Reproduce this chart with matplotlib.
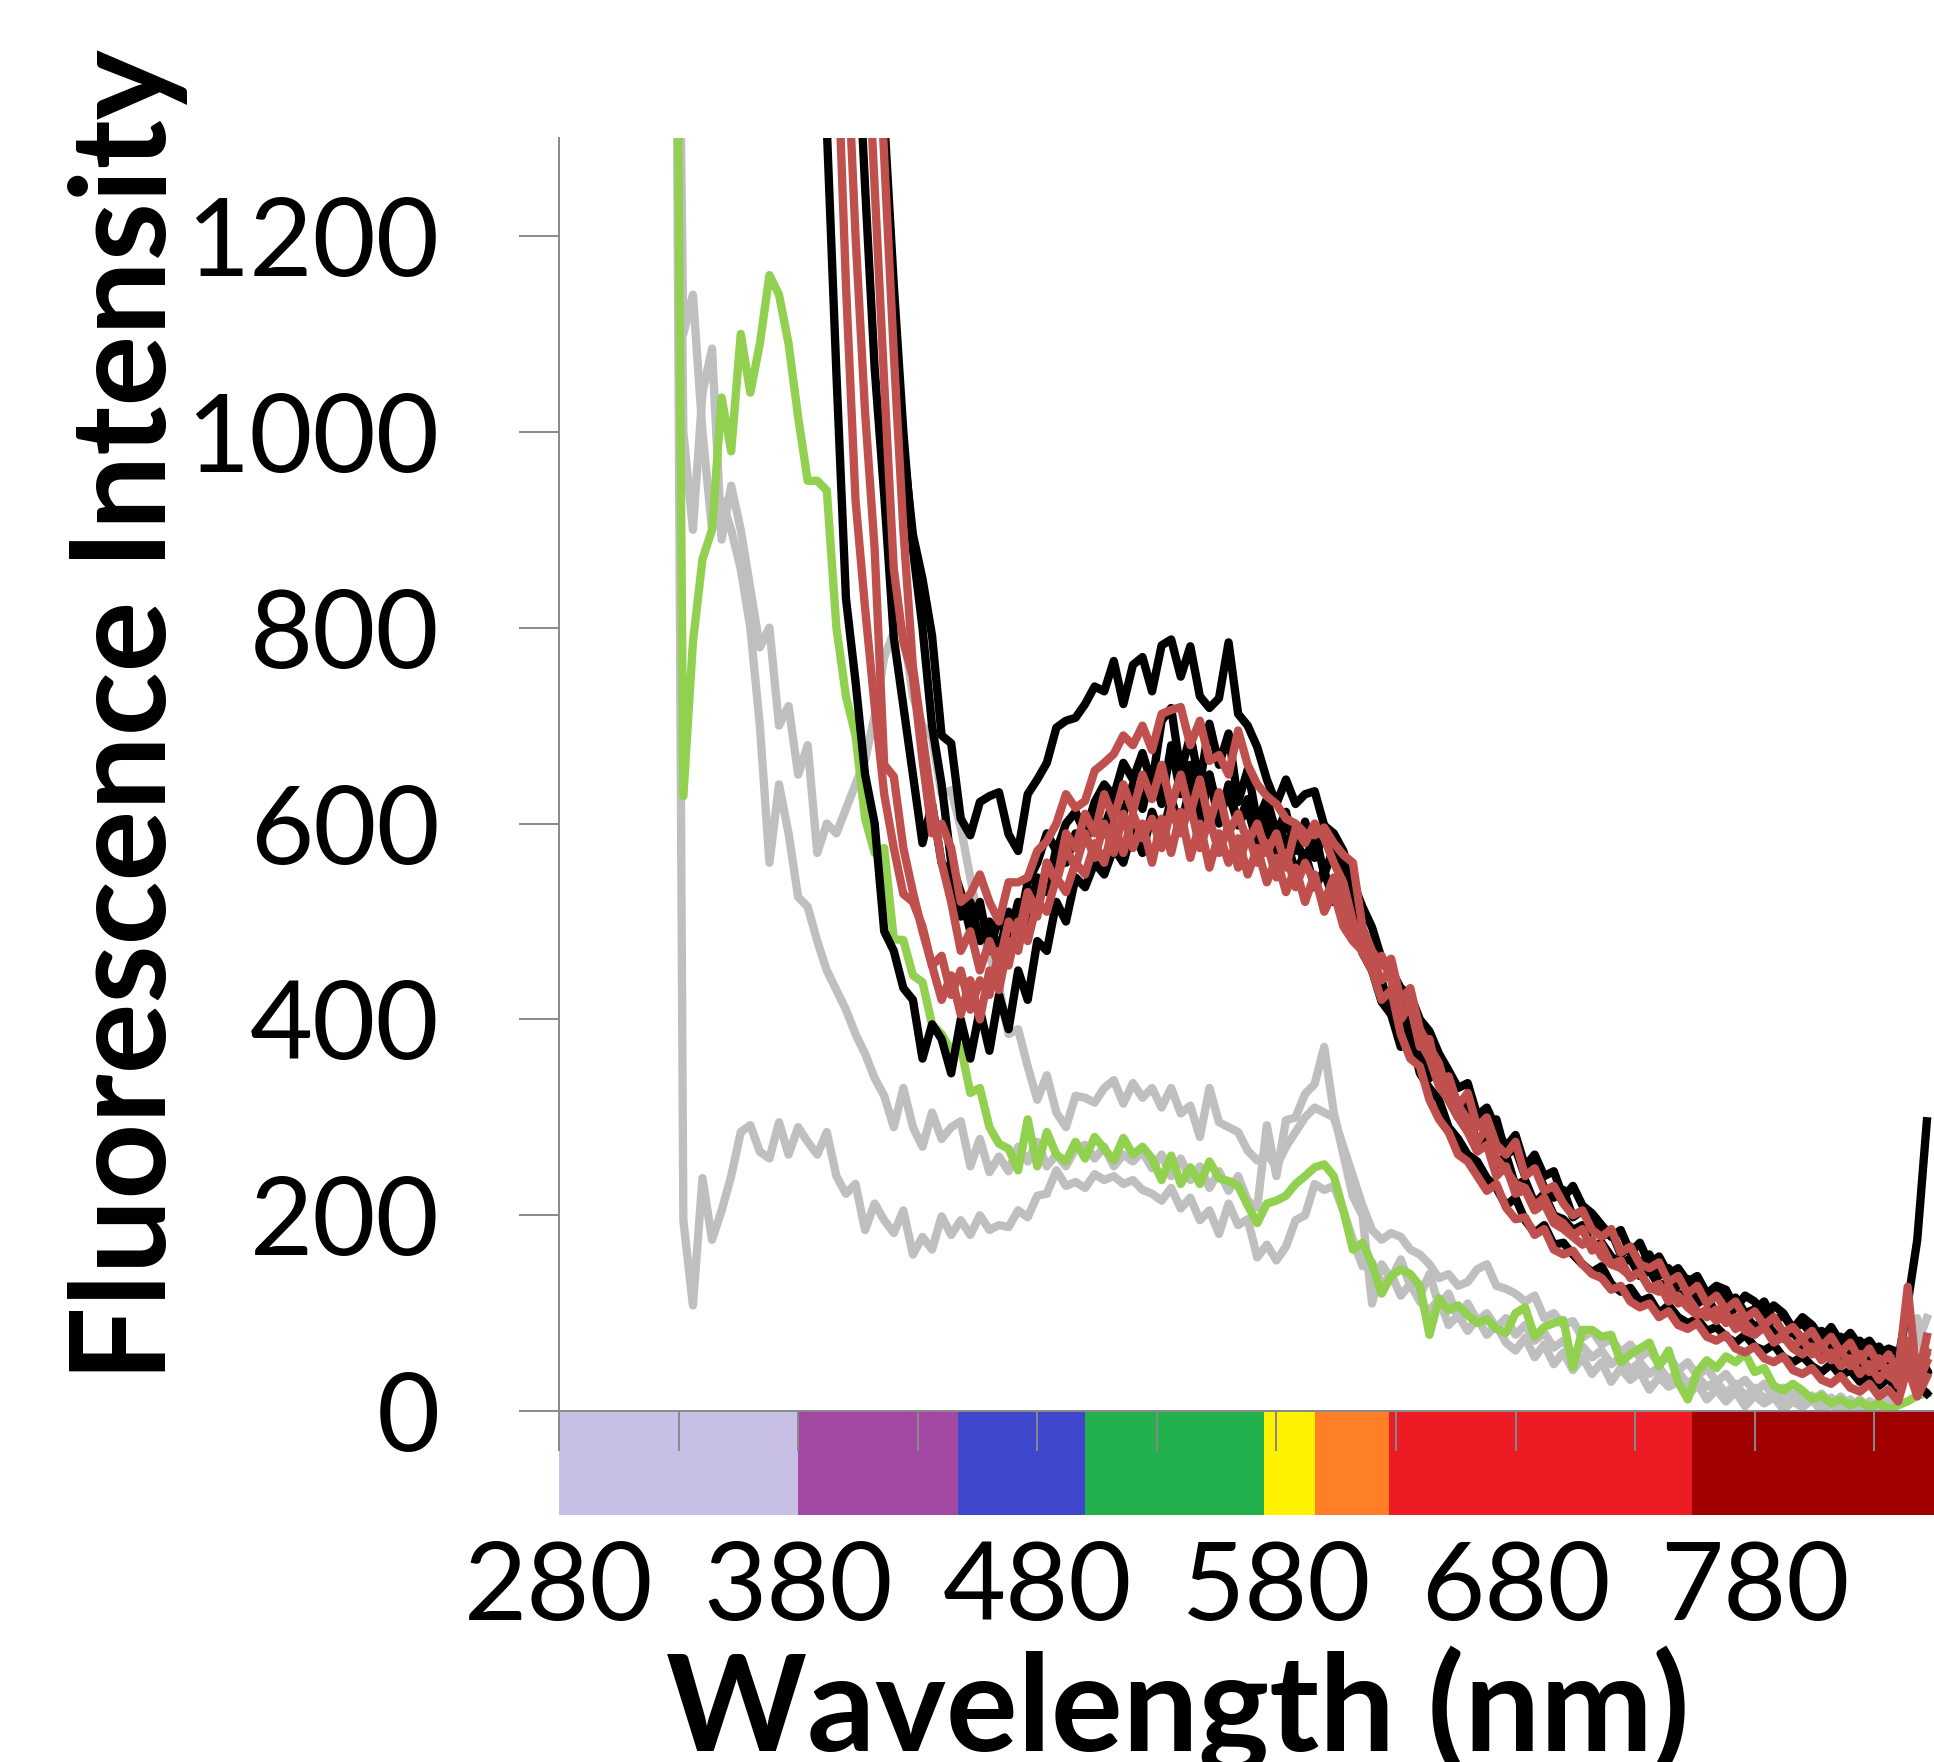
import numpy as np
import matplotlib.pyplot as plt
from matplotlib.patches import Rectangle

plt.rcParams['font.family'] = ['Lato', 'DejaVu Sans']

# spectra are sampled every 4 nm; early group starts at 328 nm, late group at 388 nm
step_nm = 4
start_early = 328
start_late = 388

green = [1900, 628, 785, 870, 900, 1035, 980, 1100, 1040, 1090,
         1160, 1140, 1090, 1015, 950, 950, 940, 800, 730, 690,
         605, 570, 575, 482, 481, 445, 438, 395, 385, 368,
         372, 325, 330, 290, 273, 268, 246, 298, 250, 285,
         262, 255, 275, 258, 280, 268, 256, 279, 262, 270,
         258, 236, 261, 232, 249, 232, 255, 238, 235, 230,
         210, 192, 212, 215, 220, 232, 240, 249, 252, 240,
         205, 165, 172, 150, 120, 138, 145, 140, 128, 78,
         115, 103, 108, 98, 90, 94, 84, 80, 100, 106,
         76, 86, 90, 93, 45, 83, 83, 76, 78, 50,
         58, 64, 70, 46, 62, 30, 12, 40, 52, 44,
         56, 50, 59, 40, 44, 26, 21, 28, 21, 12,
         16, 8, 12, 6, 10, 4, 8, 2, 6, 10,
         16, 18]

gray_a = [1900, 195, 108, 238, 175, 205, 240, 285, 292, 265,
          258, 295, 262, 290, 275, 262, 285, 240, 222, 232,
          185, 212, 195, 182, 205, 160, 178, 165, 199, 180,
          195, 180, 200, 185, 190, 188, 205, 198, 220, 222,
          246, 230, 234, 228, 242, 236, 240, 232, 236, 226,
          222, 215, 228, 207, 218, 195, 205, 181, 212, 190,
          196, 157, 170, 154, 168, 195, 200, 232, 226, 230,
          205, 175, 148, 152, 128, 140, 118, 130, 112, 102,
          115, 88, 98, 82, 95, 78, 88, 70, 62, 75,
          55, 68, 48, 60, 42, 55, 38, 50, 30, 44,
          32, 40, 22, 35, 25, 30, 15, 28, 12, 22,
          10, 20, 5, 16, 8, 14, 2, 10, 4, 12,
          0, 8, -2, 6, 0, 10, -2, 8, 20, 45,
          90, 60]

gray_b = [1900, 1100, 1140, 1000, 900, 930, 900, 860, 800, 700,
          560, 640, 590, 525, 515, 480, 450, 430, 410, 385,
          365, 340, 322, 290, 330, 290, 270, 305, 278, 290,
          296, 250, 278, 244, 260, 245, 270, 255, 275, 250,
          262, 250, 268, 272, 258, 270, 250, 262, 255, 265,
          248, 262, 240, 258, 236, 250, 228, 245, 225, 240,
          215, 208, 292, 240, 297, 300, 324, 334, 372, 305,
          262, 219, 200, 110, 150, 135, 155, 128, 118, 140,
          108, 120, 95, 110, 92, 100, 85, 95, 78, 88,
          72, 80, 65, 72, 58, 66, 55, 62, 48, 55,
          42, 50, 38, 45, 32, 40, 28, 35, 25, 30,
          18, 28, 15, 24, 12, 20, 10, 18, 8, 16,
          5, 14, 4, 12, 2, 10, 5, 12, 30, 60,
          95, 40]

gray_c = [1900, 1000, 900, 1040, 1085, 890, 945, 900, 840, 780,
          800, 700, 720, 650, 680, 570, 600, 590, 615, 640,
          665, 710, 770, 795, 798, 730, 700, 688, 630, 634,
          596, 545, 494, 467, 433, 385, 390, 352, 318, 343,
          305, 290, 322, 320, 315, 330, 338, 314, 335, 320,
          330, 310, 330, 304, 312, 280, 330, 295, 290, 285,
          266, 256, 262, 250, 270, 285, 300, 310, 305, 300,
          270, 240, 210, 185, 175, 182, 178, 165, 160, 150,
          136, 140, 128, 132, 145, 150, 128, 125, 120, 112,
          118, 95, 100, 88, 92, 75, 82, 68, 74, 60,
          68, 55, 62, 48, 56, 42, 50, 36, 44, 30,
          38, 25, 32, 20, 28, 15, 24, 12, 20, 10,
          18, 6, 15, 4, 12, 2, 10, 40, 60, 92,
          70, 95]

black_1 = [3000, 2700, 2400, 2100, 1850, 1650, 1450, 1300, 1120, 985,
           895, 850, 792, 690, 682, 605, 588, 622, 628, 632,
           589, 572, 630, 645, 662, 698, 705, 708, 722, 740,
           735, 766, 722, 762, 770, 735, 782, 788, 750, 781,
           730, 718, 728, 785, 712, 700, 678, 645, 620, 645,
           620, 630, 633, 598, 590, 572, 540, 515, 494, 462,
           450, 432, 425, 400, 388, 365, 348, 330, 335, 302,
           310, 288, 270, 282, 250, 262, 240, 245, 218, 230,
           210, 202, 190, 178, 185, 162, 172, 150, 158, 140,
           146, 132, 138, 120, 128, 124, 105, 118, 112, 96,
           108, 100, 84, 96, 88, 74, 86, 70, 80, 66,
           72, 58, 64, 60, 48, 54, 40]

black_2 = [2600, 2250, 1950, 1650, 1450, 1250, 1065, 935, 790, 720,
           650, 580, 620, 560, 548, 505, 520, 480, 500, 468,
           510, 492, 540, 560, 590, 572, 600, 612, 590, 622,
           640, 628, 662, 645, 672, 640, 705, 718, 652, 690,
           640, 702, 660, 692, 622, 655, 602, 625, 590, 612,
           572, 602, 565, 590, 578, 556, 512, 470, 452, 425,
           430, 398, 385, 372, 340, 352, 318, 300, 310, 270,
           285, 248, 262, 230, 236, 212, 222, 200, 196, 185,
           190, 168, 172, 158, 150, 156, 138, 144, 128, 132,
           118, 122, 110, 116, 100, 108, 94, 98, 86, 92,
           80, 74, 82, 66, 72, 60, 68, 54, 62, 48,
           58, 44, 52, 40, 50, 36, 42]

black_3 = [3100, 2800, 2500, 2200, 1950, 1700, 1500, 1320, 1150, 1000,
           880, 800, 700, 640, 560, 530, 490, 520, 470, 505,
           480, 520, 500, 545, 530, 575, 560, 590, 580, 610,
           595, 625, 610, 640, 615, 655, 620, 680, 630, 660,
           615, 650, 600, 640, 598, 625, 580, 610, 575, 600,
           585, 560, 592, 548, 575, 530, 500, 478, 450, 440,
           405, 420, 380, 392, 360, 345, 338, 312, 322, 296,
           288, 298, 262, 268, 240, 252, 228, 218, 226, 198,
           205, 190, 178, 184, 160, 168, 150, 160, 138, 146,
           128, 135, 122, 114, 125, 108, 116, 100, 104, 112,
           92, 98, 84, 90, 78, 82, 70, 76, 64, 72,
           58, 66, 54, 50, 110, 175, 296]

black_4 = [2200, 1310, 1060, 830, 745, 650, 600, 490, 470, 432,
           420, 360, 395, 380, 345, 400, 360, 410, 368, 425,
           390, 450, 420, 480, 470, 520, 500, 545, 535, 560,
           548, 575, 560, 595, 570, 612, 585, 625, 595, 640,
           600, 650, 610, 630, 600, 615, 580, 598, 565, 585,
           550, 570, 535, 552, 520, 540, 500, 468, 450, 418,
           405, 372, 385, 345, 330, 318, 290, 278, 262, 255,
           238, 228, 210, 218, 195, 182, 190, 170, 172, 160,
           150, 142, 148, 130, 122, 126, 112, 116, 100, 108,
           96, 90, 94, 82, 86, 76, 70, 78, 66, 62,
           68, 55, 50, 56, 46, 40, 48, 36, 42, 30,
           38, 26, 34, 20, 45, 28, 18]

red_1 = [2800, 2500, 2200, 1950, 1700, 1450, 1250, 1050, 860, 785,
         750, 665, 590, 600, 575, 520, 528, 548, 520, 500,
         540, 540, 545, 572, 582, 600, 630, 616, 623, 654,
         662, 671, 690, 680, 700, 675, 712, 716, 719, 680,
         705, 664, 670, 650, 695, 660, 640, 628, 620, 605,
         600, 590, 588, 596, 580, 568, 560, 494, 470, 455,
         462, 420, 432, 390, 372, 355, 320, 312, 298, 275,
         290, 258, 246, 232, 228, 210, 218, 198, 192, 180,
         186, 164, 170, 150, 146, 138, 142, 125, 130, 112,
         118, 106, 98, 104, 92, 100, 84, 90, 80, 86,
         72, 78, 66, 74, 58, 68, 52, 62, 46, 58,
         40, 54, 36, 30, 72, 20, 60]

red_2 = [2300, 1800, 1420, 1150, 930, 820, 720, 630, 575, 528,
         520, 495, 455, 465, 425, 450, 410, 440, 425, 470,
         455, 500, 480, 520, 510, 545, 530, 560, 548, 580,
         560, 600, 570, 610, 585, 605, 575, 615, 590, 620,
         575, 605, 570, 598, 555, 590, 560, 580, 545, 570,
         535, 560, 540, 520, 545, 515, 490, 468, 450, 420,
         430, 385, 360, 352, 318, 298, 285, 262, 255, 240,
         225, 232, 208, 196, 198, 180, 186, 165, 160, 164,
         150, 140, 136, 124, 128, 112, 106, 110, 96, 102,
         88, 84, 90, 76, 72, 78, 64, 60, 66, 54,
         50, 56, 42, 38, 44, 32, 28, 36, 24, 20,
         28, 15, 22, 10, 45, 15, 35]

red_3 = [2600, 2100, 1700, 1420, 1200, 1020, 880, 660, 648, 575,
         530, 490, 455, 420, 445, 405, 440, 400, 450, 430,
         480, 470, 520, 505, 560, 540, 590, 575, 610, 590,
         630, 605, 640, 612, 650, 625, 660, 618, 650, 610,
         645, 600, 632, 590, 610, 580, 600, 570, 590, 555,
         595, 580, 600, 585, 560, 540, 500, 480, 458, 465,
         440, 400, 415, 372, 380, 335, 342, 312, 325, 290,
         300, 272, 262, 275, 240, 248, 225, 230, 212, 200,
         205, 185, 178, 186, 162, 168, 150, 146, 152, 132,
         138, 120, 128, 110, 118, 104, 112, 95, 102, 88,
         96, 80, 86, 74, 82, 66, 76, 60, 70, 52,
         64, 46, 58, 40, 127, 30, 76]

red_4 = [3000, 2700, 2450, 2200, 1950, 1700, 1480, 1280, 1080, 900,
         760, 690, 620, 560, 520, 470, 490, 450, 480, 455,
         500, 485, 530, 510, 560, 540, 575, 555, 590, 565,
         600, 570, 610, 575, 600, 560, 605, 570, 612, 565,
         600, 555, 590, 560, 585, 548, 575, 540, 565, 530,
         555, 520, 548, 510, 530, 495, 480, 470, 462, 440,
         450, 405, 420, 378, 360, 332, 318, 300, 285, 265,
         272, 240, 250, 222, 226, 205, 212, 192, 186, 178,
         170, 175, 158, 150, 154, 136, 142, 126, 122, 128,
         110, 116, 102, 96, 104, 90, 96, 82, 78, 86,
         70, 76, 64, 58, 66, 52, 60, 46, 54, 38,
         48, 32, 44, 26, 60, 28, 50]

# visible-spectrum colour strip under the axis
band_edges = [280, 380, 447, 500, 575, 596, 627, 754, 855]
band_colors = ['#C8BFE7', '#A349A4', '#3F48CC', '#22B14C',
               '#FFF200', '#FF7F27', '#ED1C24', '#A10000']

W, H = 1934, 1762
fig = plt.figure(figsize=(W / 100, H / 100), dpi=100)
ax = fig.add_axes([559 / W, (H - 1515) / H, 1 - 559 / W, 1377 / H])
ax.set_xlim(280, 855)
ax.set_ylim(-106, 1300)

def wl(vals, start):
    return start + step_nm * np.arange(len(vals))

lw = 6.0
for s in [gray_a, gray_b, gray_c]:
    ax.plot(wl(s, start_early), s, color='#BFBFBF', lw=lw, zorder=2)
ax.plot(wl(green, start_early), green, color='#92D050', lw=lw, zorder=2)
for s in [black_4, black_3, black_2, black_1]:
    ax.plot(wl(s, start_late), s, color='black', lw=lw, zorder=2)
for s in [red_2, red_3, red_4, red_1]:
    ax.plot(wl(s, start_late), s, color='#C0504D', lw=lw, zorder=2)

for lo, hi, c in zip(band_edges[:-1], band_edges[1:], band_colors):
    ax.add_patch(Rectangle((lo, -106), hi - lo, 106, facecolor=c, lw=0, zorder=3))

axis_gray = '#898989'
for side in ['top', 'right']:
    ax.spines[side].set_visible(False)
ax.spines['left'].set_bounds(0, 1300)
ax.spines['bottom'].set_position(('data', 0))
for side in ['left', 'bottom']:
    ax.spines[side].set_color(axis_gray)
    ax.spines[side].set_linewidth(1.4)
    ax.spines[side].set_zorder(4)
ax.xaxis.set_zorder(4)
ax.yaxis.set_zorder(4)

ax.set_xticks(range(280, 781, 100))
ax.set_xticks(range(330, 831, 100), minor=True)
ax.set_yticks(range(0, 1201, 200))
ax.tick_params(which='both', direction='out', length=29, width=1.4, color=axis_gray, labelsize=78)
ax.tick_params(axis='x', pad=64)
ax.tick_params(axis='y', pad=57)

ylab = fig.text(166 / W, 1 - 715 / H, 'Fluorescence Intensity', rotation=90, rotation_mode='anchor',
                ha='center', va='baseline', fontweight='bold', fontsize=100)
xlab = fig.text(1178 / W, 11 / H, 'Wavelength (nm)', ha='center', va='baseline',
                fontweight='bold', fontsize=100)

# fit the text sizes to the measured extents of the reference
fig.canvas.draw()
r = fig.canvas.get_renderer()
lab1200 = [t for t in ax.get_yticklabels() if t.get_text() == '1200'][0]
tick_size = 78 * 253 / lab1200.get_window_extent(r).width
ax.tick_params(labelsize=tick_size)
ylab.set_fontsize(100 * 1332 / ylab.get_window_extent(r).height)
xlab.set_fontsize(100 * 1024 / xlab.get_window_extent(r).width)

fig.savefig('out.png', dpi=100)
